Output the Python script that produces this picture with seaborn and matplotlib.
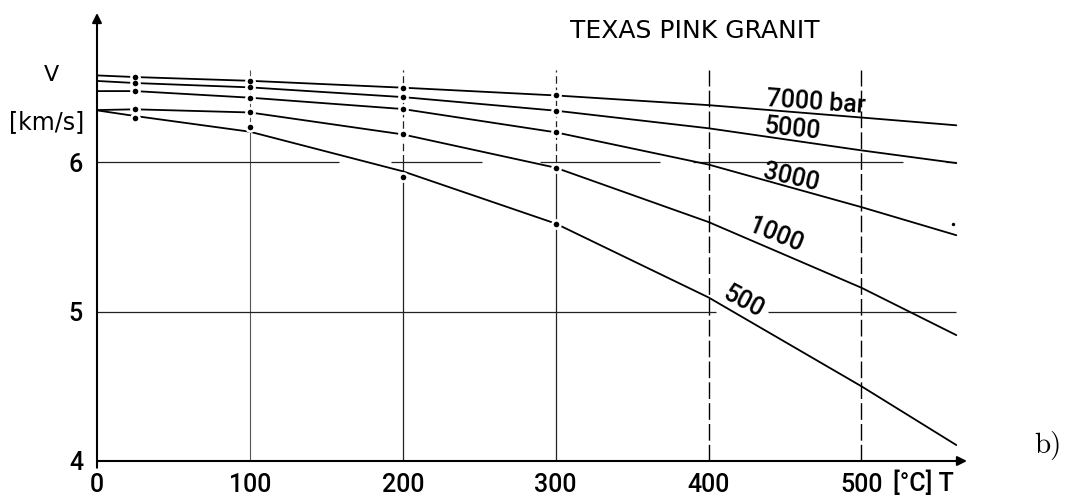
import matplotlib
matplotlib.use("Agg")
import matplotlib.pyplot as plt
import numpy as np
import pandas as pd
import seaborn as sns

# Ultrasonic P-wave velocity of Texas pink granite vs. temperature at several confining pressures
pressures = ["7000", "5000", "3000", "1000", "500"]
curve_T = [0, 25, 100, 200, 300, 400, 500, 562]
v_7000 = [6.582, 6.571, 6.546, 6.500, 6.448, 6.383, 6.300, 6.248]
v_5000 = [6.545, 6.531, 6.502, 6.437, 6.346, 6.228, 6.080, 5.995]
v_3000 = [6.477, 6.477, 6.433, 6.357, 6.201, 5.985, 5.700, 5.512]
v_1000 = [6.350, 6.355, 6.334, 6.187, 5.964, 5.600, 5.160, 4.843]
v_500 = [6.348, 6.310, 6.205, 5.940, 5.590, 5.095, 4.500, 4.107]

# measured points
meas_T = [25, 100, 200, 300]
m_7000 = [6.571, 6.546, 6.500, 6.448]
m_5000 = [6.531, 6.502, 6.437, 6.346]
m_3000 = [6.477, 6.433, 6.357, 6.201]
m_1000 = [6.355, 6.334, 6.187, 5.964]
m_500 = [6.294, 6.239, 5.902, 5.590]
extra_T = [560]
extra_v = [5.59]

curve_labels = ["7000 bar", "5000", "3000", "1000", "500"]
x_ticks = [0, 100, 200, 300, 400, 500]
y_ticks = [4, 5, 6]

curves = dict(zip(pressures, [v_7000, v_5000, v_3000, v_1000, v_500]))
meas = dict(zip(pressures, [m_7000, m_5000, m_3000, m_1000, m_500]))

df_curves = pd.DataFrame(
    [(p, t, v) for p in pressures for t, v in zip(curve_T, curves[p])],
    columns=["p", "T", "V"],
)
df_meas = pd.DataFrame(
    [(p, t, v) for p in pressures for t, v in zip(meas_T, meas[p])],
    columns=["p", "T", "V"],
)

sns.set_theme(style="white")
plt.rcParams["font.family"] = ["DejaVu Sans"]
plt.rcParams["text.color"] = "black"
plt.rcParams["xtick.color"] = "black"
plt.rcParams["ytick.color"] = "black"
plt.rcParams["xtick.labelcolor"] = "black"
plt.rcParams["ytick.labelcolor"] = "black"
narrow = ["Roboto", "DejaVu Sans"]

fig = plt.figure(figsize=(10.69, 4.99), dpi=100)
ax = fig.add_axes([97 / 1069, 38 / 499, 870 / 1069, 448 / 499])
ax.set_xlim(0, 569)
ax.set_ylim(4, 7.0)
for s in ax.spines.values():
    s.set_visible(False)

# grid: verticals
top = 6.62
ax.vlines(100, 4, top, color="#555555", lw=0.8, zorder=1)
for t in (200, 300):
    ax.vlines(t, 4, 6.0, color="#222222", lw=0.9, zorder=1)
    ax.vlines(t, 6.0, top, color="#222222", lw=0.9, linestyles=(0, (6, 3)), zorder=1)
for t in (400, 500):
    ax.vlines(t, 4, top, color="black", lw=1.0, linestyles=(0, (12, 3)), zorder=1)

# grid: horizontals
for a, b in [(0, 405), (439, 562)]:
    ax.hlines(5, a, b, color="#222222", lw=0.9, zorder=1)
for a, b in [(0, 158), (192, 252), (290, 368), (390, 527), (555, 562)]:
    ax.hlines(6, a, b, color="#222222", lw=0.9, zorder=1)

# curves
sns.lineplot(
    data=df_curves, x="T", y="V", hue="p", units="p", estimator=None, sort=False,
    palette={p: "black" for p in pressures}, linewidth=1.3, legend=False, ax=ax, zorder=2,
)
# measured points with white halo breaking the curve
sns.scatterplot(data=df_meas, x="T", y="V", color="white", s=60, linewidth=0, ax=ax, zorder=3)
sns.scatterplot(data=df_meas, x="T", y="V", color="black", s=16, linewidth=0, ax=ax, zorder=4)
sns.scatterplot(x=extra_T, y=extra_v, color="black", s=6, linewidth=0, ax=ax, zorder=4)

# curve labels
label_pos = [(470, 6.403, -4), (455, 6.225, -6), (454, 5.90, -13), (444, 5.51, -22), (423, 5.066, -28)]
for txt, (tx, ty, rot) in zip(curve_labels, label_pos):
    ax.text(tx, ty, txt, rotation=rot, ha="center", va="center", fontsize=18,
            family=narrow, fontweight="medium", rotation_mode="anchor", zorder=5)

# axes with arrows
arrow = dict(arrowstyle="-|>", lw=1.5, color="black", mutation_scale=14, shrinkA=0, shrinkB=0)
ax.annotate("", xy=(0, 7.0), xytext=(0, 3.955), arrowprops=arrow, annotation_clip=False)
ax.annotate("", xy=(569, 4), xytext=(0, 4), arrowprops=arrow, annotation_clip=False)

ax.set_xticks(x_ticks, [str(t) for t in x_ticks], fontsize=18, family=narrow, fontweight="medium")
ax.set_yticks(y_ticks, [str(t) for t in y_ticks], fontsize=18, family=narrow, fontweight="medium")
ax.tick_params(axis="x", direction="out", length=4, width=1.2, pad=5, colors="black")
ax.tick_params(axis="y", direction="out", length=7, width=1.2, pad=3, colors="black")
ax.set_xlabel("")
ax.set_ylabel("")

fig.text(694.5 / 1069, 1 - 31 / 499, "TEXAS PINK GRANIT", ha="center", va="center", fontsize=18)
fig.text(51 / 1069, 1 - 75 / 499, "V", ha="center", va="center", fontsize=16, fontweight="medium")
fig.text(47 / 1069, 1 - 122 / 499, "[km/s]", ha="center", va="center", fontsize=17)
fig.text(893 / 1069, 1 - 483 / 499, "[°C] T", ha="left", va="center", fontsize=18,
         family=narrow, fontweight="medium")
fig.text(1048 / 1069, 1 - 445 / 499, "b)", ha="center", va="center", fontsize=21, family="cmr10")

fig.savefig("out.png", dpi=100, facecolor="white")
